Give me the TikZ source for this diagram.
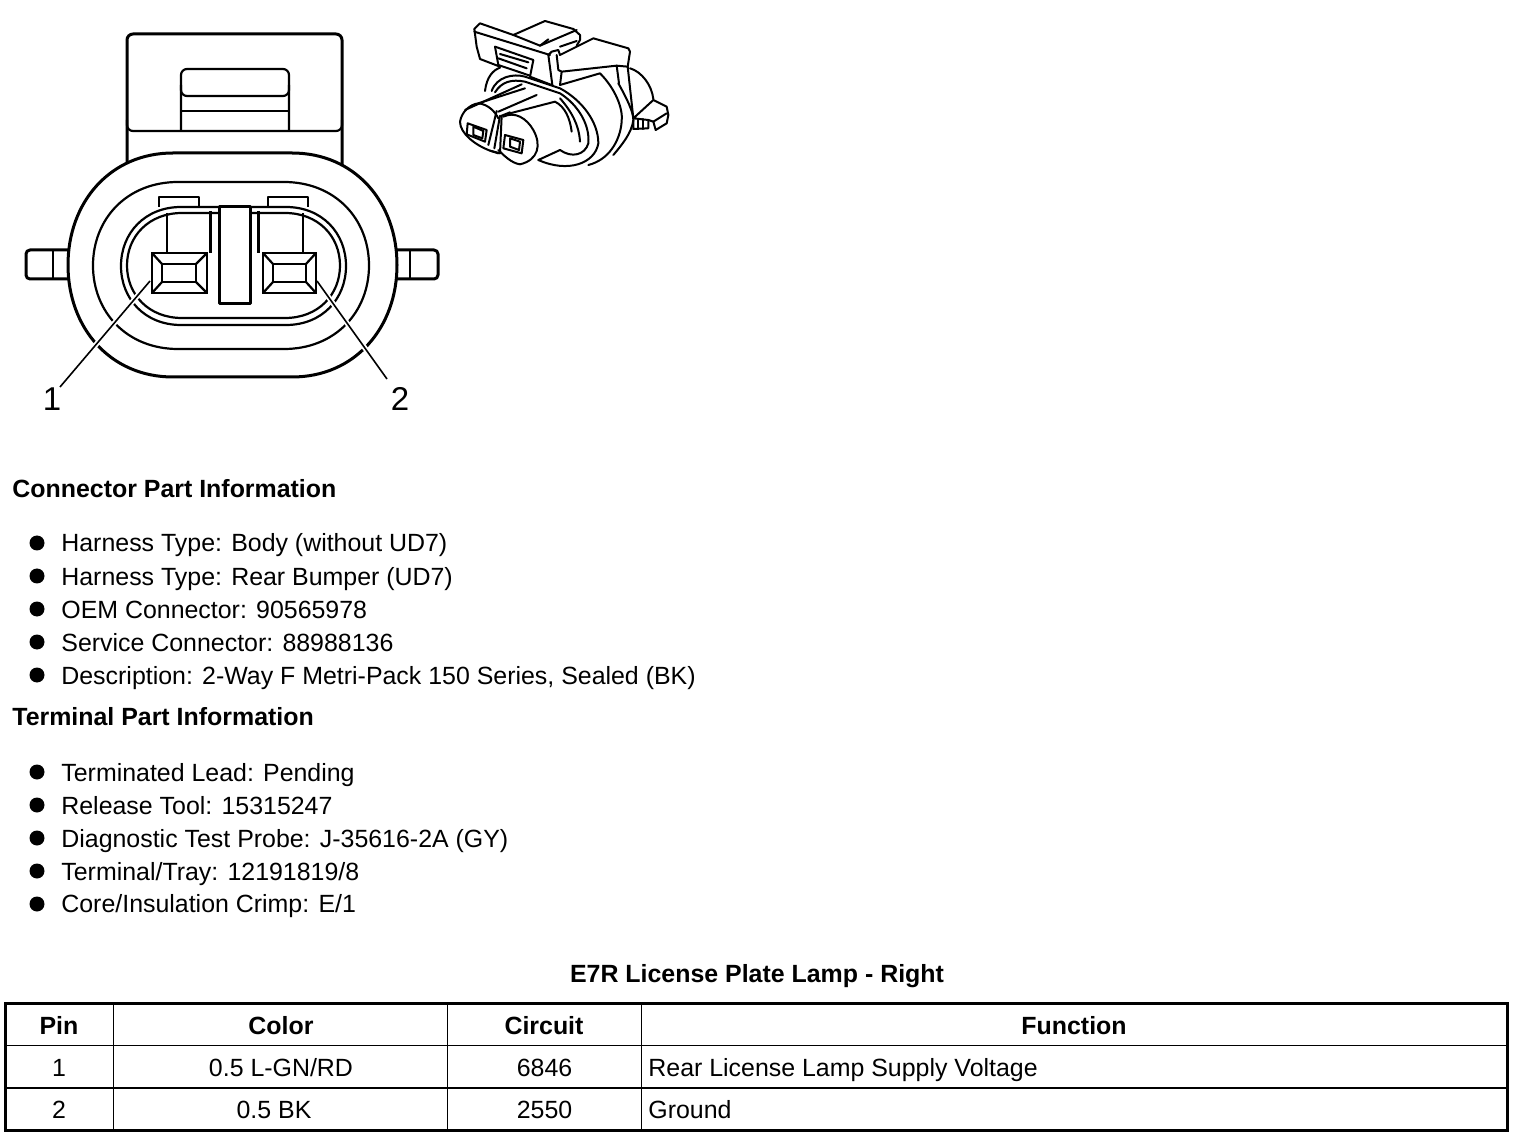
\documentclass[tikz,border=0pt]{standalone}
\usepackage{fontspec}
\usetikzlibrary{calc}
\setmainfont{Liberation Sans}
\tikzset{%
  part/.style     = {line width=1.1pt, line join=round},
  thickpart/.style = {line width=1.5pt, line join=round},
  sketch/.style   = {line width=1pt, line join=round, line cap=round},
  txt/.style      = {anchor=base west, inner sep=0pt, font=\fontsize{12.46}{14}\selectfont},
  head/.style     = {txt, font=\fontsize{12.46}{14}\selectfont\bfseries},
  cell/.style     = {anchor=base, inner sep=0pt, font=\fontsize{12.46}{14}\selectfont},
  hcell/.style    = {cell, font=\fontsize{12.46}{14}\selectfont\bfseries},
  pinno/.style    = {anchor=base, inner sep=0pt, font=\fontsize{16.5}{18}\selectfont},
  dot/.style      = {circle, fill=black, inner sep=0pt, minimum size=7.5pt}
}
% left, right, top, bottom, flat inset
\newcommand{\connoval}[5]{
  ({#1+#5},#3) -- ({#2-#5},#3)
  .. controls ({#2-0.4*#5},#3) and (#2,{#3+0.22*(#4-#3)}) .. (#2,{(#3+#4)/2})
  .. controls (#2,{#4-0.22*(#4-#3)}) and ({#2-0.4*#5},#4) .. ({#2-#5},#4)
  -- ({#1+#5},#4)
  .. controls ({#1+0.4*#5},#4) and (#1,{#4-0.22*(#4-#3)}) .. (#1,{(#3+#4)/2})
  .. controls (#1,{#3+0.22*(#4-#3)}) and ({#1+0.4*#5},#3) .. ({#1+#5},#3) -- cycle
}
% terminal window: left, right, inner left, inner right
\newcommand{\termbox}[4]{
  \draw[line width=1.25pt] (#1,253) rectangle (#2,293);
  \draw[part] (#3,264) rectangle (#4,282);
  \draw[part] (#1,253) -- (#3,264) (#2,253) -- (#4,264)
    (#1,293) -- (#3,282) (#2,293) -- (#4,282);
}
\begin{document}
\begin{tikzpicture}[x=0.5pt, y=-0.5pt]
\useasboundingbox (0,0) rectangle (1520,1138);
% Top lock
\draw[thickpart, rounded corners=3pt] (127,170) -- (127,34) -- (342,34) -- (342,170);
\draw[part, rounded corners=3pt] (127,120) -- (127,131) -- (342,131) -- (342,120);
\draw[part, rounded corners=3pt] (181,131) -- (181,69) -- (289,69) -- (289,131);
\draw[part, rounded corners=3pt] (181,85) -- (181,96) -- (289,96) -- (289,85);
\draw[part] (181,111) -- (289,111);
% Side lugs
\draw[thickpart, rounded corners=2pt] (72,250) -- (26,250) -- (26,279) -- (72,279);
\draw[part] (53,250) -- (53,279);
\draw[thickpart, rounded corners=2pt] (393,250) -- (438,250) -- (438,279) -- (393,279);
\draw[part] (410,250) -- (410,279);
% Ovals
\draw[thickpart, fill=white] \connoval{68}{397}{153}{377}{105};
\draw[part] \connoval{93}{369}{182}{349}{85};
\draw[part] (159,207) -- (159,197) -- (199,197) -- (199,207);
\draw[part] (268,207) -- (268,197) -- (308,197) -- (308,207);
\draw[part, fill=white] \connoval{121}{346}{207}{325}{60};
\draw[part] \connoval{127}{340}{213}{318}{55};
% Stems and centre post
\draw[part] (167,213) -- (167,253);
\draw[thickpart] (210,211) -- (210,253);
\draw[thickpart] (258,211) -- (258,253);
\draw[part] (303,213) -- (303,253);
\draw[thickpart, fill=white] (219,207) rectangle (250,304);
% Terminals
\termbox{152}{207}{162}{196}
\termbox{263}{316}{273}{306}
% Leaders
\coordinate (lead1a) at (150,281);
\coordinate (lead1b) at (60,387);
\coordinate (lead2a) at (317,281);
\coordinate (lead2b) at (387,379);
\draw[white, line width=2.6pt] ($(lead1a)!0.12!(lead1b)$) -- ($(lead1a)!0.85!(lead1b)$);
\draw[white, line width=2.6pt] ($(lead2a)!0.12!(lead2b)$) -- ($(lead2a)!0.85!(lead2b)$);
\draw[line width=0.8pt] (lead1a) -- (lead1b);
\draw[line width=0.8pt] (lead2a) -- (lead2b);
\node[pinno] (pin1) at (52,411) {1};
\node[pinno] (pin2) at (400,411) {2};
% Small view of the connector
\begin{scope}[shift={(445,5)}, x=0.16667pt, y=-0.16667pt, sketch]
  % latch
  \draw (88,72) -- (105,55) -- (205,90) -- (285,122) -- (395,75);
  \draw (205,90) -- (300,48) -- (385,72) -- (405,90) -- (405,105) -- (395,122);
  \draw (88,72) -- (95,125) -- (105,162) -- (165,185);
  \draw (88,80) -- (315,150);
  \draw (285,122) -- (310,103) (345,125) -- (395,108);
  \draw (150,125) -- (265,165) -- (255,215) -- (320,240);
  \draw (150,125) -- (160,180) -- (255,212);
  \draw (165,147) -- (250,172);
  \draw (160,160) -- (245,190);
  % right latch
  \draw (310,150) -- (320,140) -- (340,135) -- (345,150) -- (445,100) -- (550,130) -- (555,140)
    -- (548,185) -- (515,182) -- (350,200) -- (340,195) -- (335,150);
  \draw (310,150) -- (322,240);
  \draw (350,200) -- (345,240);
  \draw (515,182) -- (522,235);
  \draw (548,185) -- (565,340);
  % body
  \draw (120,258) .. controls (125,215) and (145,195) .. (165,188);
  \draw (345,240) -- (465,205) .. controls (510,250) and (535,310) .. (530,350) .. controls (525,410) and (490,465) .. (430,480);
  \draw (520,235) .. controls (545,280) and (565,320) .. (565,345) .. controls (560,385) and (530,420) .. (505,450);
  % collar
  \draw (140,258) .. controls (155,215) and (205,205) .. (240,215) -- (345,250) .. controls (410,285) and (460,350) .. (460,415) .. controls (450,475) and (370,505) .. (280,465);
  \draw (150,262) .. controls (170,230) and (200,222) .. (240,230) -- (345,265) .. controls (400,300) and (435,360) .. (430,415) .. controls (420,450) and (380,460) .. (345,435);
  \draw (345,280) .. controls (380,320) and (402,360) .. (405,410);
  % plugs
  \draw (45,350) .. controls (50,320) and (75,298) .. (100,295) .. controls (130,298) and (150,320) .. (160,340);
  \draw (45,350) .. controls (45,385) and (90,420) .. (135,437) -- (160,445);
  \draw (60,315) -- (230,238);
  \draw (100,295) -- (240,250);
  \draw (160,320) -- (275,270);
  \draw (130,420) -- (155,318);
  \draw (148,430) -- (165,332);
  \draw (135,437) -- (165,445) -- (170,332) -- (195,322);
  \draw (175,335) .. controls (210,318) and (245,340) .. (265,375) .. controls (290,420) and (280,465) .. (225,478) .. controls (200,475) and (175,450) .. (160,435);
  \draw (195,325) -- (330,290) .. controls (360,305) and (375,340) .. (380,380);
  \draw (280,465) -- (345,435);
  % windows
  \draw (68,355) -- (125,375) -- (120,410) -- (65,388) -- cycle;
  \draw (85,365) -- (115,378) -- (112,400) -- (85,390) -- cycle;
  \draw (180,390) -- (235,405) -- (230,445) -- (175,430) -- cycle;
  \draw (195,400) -- (225,410) -- (222,435) -- (195,425) -- cycle;
  % rear boss and tail
  \draw (555,190) .. controls (590,200) and (620,240) .. (625,282);
  \draw (565,340) -- (625,285) -- (665,305) -- (670,330) -- (665,355) -- (632,375) -- (625,350) -- (610,345) -- (565,340);
  \draw (625,350) -- (665,325);
  \draw (565,345) -- (565,372) -- (610,370) -- (610,345);
  \draw (580,342) -- (580,372) (595,342) -- (595,372);
\end{scope}
% Part information
\node[head] (connhead) at (12,498) {Connector Part Information};
\foreach \ypos/\line in {552/{Harness Type: Body (without UD7)},
    585/{Harness Type: Rear Bumper (UD7)},
    618/{OEM Connector: 90565978},
    651/{Service Connector: 88988136},
    684/{Description: 2-Way F Metri-Pack 150 Series, Sealed (BK)}}
  \node[txt] (conn\ypos) at (61,\ypos) {\line};
\node[head] (termhead) at (12,725) {Terminal Part Information};
\foreach \ypos/\line in {781/{Terminated Lead: Pending},
    814/{Release Tool: 15315247},
    847/{Diagnostic Test Probe: J-35616-2A (GY)},
    880/{Terminal/Tray: 12191819/8},
    912/{Core/Insulation Crimp: E/1}}
  \node[txt] (term\ypos) at (61,\ypos) {\line};
\foreach \ypos in {543,576,609,642,675,772,805,838,871,904}
  \node[dot] (dot\ypos) at (37,\ypos) {};
% Pin table
\node[hcell] (title) at (757,982) {E7R License Plate Lamp - Right};
\draw[line width=1.5pt] (5,1003) rectangle (1507,1130);
\draw[line width=0.8pt] (5,1045.5) -- (1507,1045.5) (5,1088) -- (1507,1088);
\draw[line width=0.8pt] (113.5,1003) -- (113.5,1130) (447.5,1003) -- (447.5,1130) (641.5,1003) -- (641.5,1130);
\node[hcell] (hpin) at (59,1034) {Pin};
\node[hcell] (hcolor) at (281,1034) {Color};
\node[hcell] (hcircuit) at (544,1034) {Circuit};
\node[hcell] (hfunc) at (1074,1034) {Function};
\node[cell] (pina) at (59,1076) {1};
\node[cell] (cola) at (281,1076) {0.5 L-GN/RD};
\node[cell] (cira) at (544.5,1076) {6846};
\node[txt] (funa) at (648,1076) {Rear License Lamp Supply Voltage};
\node[cell] (pinb) at (59,1118) {2};
\node[cell] (colb) at (274,1118) {0.5 BK};
\node[cell] (cirb) at (544.5,1118) {2550};
\node[txt] (funb) at (648,1118) {Ground};
\end{tikzpicture}
\end{document}
